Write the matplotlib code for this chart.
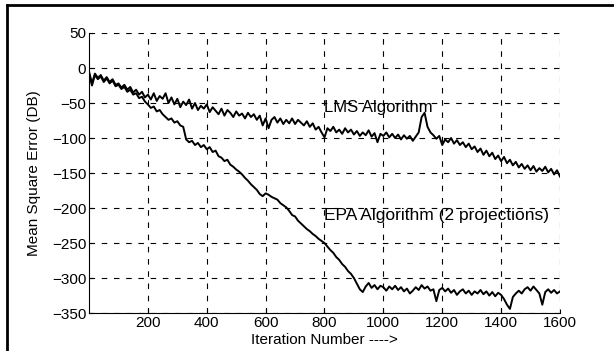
import numpy as np
import matplotlib
matplotlib.use("Agg")
import matplotlib.pyplot as plt
from matplotlib.lines import Line2D

iterations = np.arange(0, 1601, 10)

lms_db = [
    -5, -22, -8, -14, -10, -18, -13, -20, -16, -24,
    -22, -28, -24, -31, -27, -35, -31, -38, -34, -42,
    -38, -45, -36, -47, -40, -44, -36, -50, -42, -52,
    -44, -56, -48, -53, -45, -58, -50, -60, -54, -58,
    -52, -63, -56, -61, -66, -58, -68, -60, -64, -70,
    -62, -68, -65, -72, -64, -70, -66, -74, -68, -82,
    -72, -86, -74, -70, -78, -72, -80, -74, -79, -72,
    -80, -74, -78, -82, -76, -84, -79, -88, -84, -92,
    -99, -86, -90, -84, -92, -88, -94, -86, -92, -88,
    -95, -90, -97, -92, -96, -89, -98, -93, -106, -94,
    -97, -92, -99, -94, -100, -95, -102, -96, -101, -97,
    -104, -98, -92, -70, -64, -84, -92, -96, -101, -97,
    -110, -102, -106, -100, -108, -103, -110, -106, -113, -108,
    -116, -112, -120, -115, -124, -118, -126, -121, -130, -125,
    -133, -127, -136, -131, -139, -134, -142, -137, -144, -139,
    -146, -140, -148, -143, -147, -141, -149, -144, -152, -146,
    -155,
]

epa_db = [
    -8, -25, -10, -16, -12, -20, -15, -22, -18, -26,
    -24, -30, -27, -34, -31, -38, -36, -43, -41, -48,
    -52, -57, -55, -62, -60, -66, -70, -74, -72, -78,
    -76, -82, -84, -102, -106, -104, -110, -107, -113, -110,
    -116, -113, -120, -118, -126, -128, -133, -131, -138, -141,
    -145, -148, -152, -157, -161, -166, -170, -174, -180, -183,
    -179, -181, -184, -186, -188, -193, -196, -199, -204, -210,
    -212, -218, -222, -226, -230, -233, -237, -240, -244, -247,
    -250, -255, -260, -264, -270, -274, -280, -284, -290, -294,
    -300, -308, -316, -320, -312, -307, -314, -310, -316, -311,
    -313, -318, -312, -316, -311, -317, -313, -319, -315, -322,
    -318, -313, -317, -310, -315, -312, -318, -316, -333, -317,
    -314, -319, -315, -321, -317, -324, -319, -316, -322, -318,
    -324, -319, -322, -317, -323, -319, -325, -320, -326, -321,
    -324, -330, -338, -344, -327, -322, -318, -322, -316, -313,
    -318, -312, -317, -322, -338, -320, -316, -321, -317, -322,
    -319,
]

x_ticks = [200, 400, 600, 800, 1000, 1200, 1400, 1600]
y_ticks = [50, 0, -50, -100, -150, -200, -250, -300, -350]

plt.rcParams["font.family"] = ["Liberation Sans", "DejaVu Sans"]

fig = plt.figure(figsize=(6.14, 3.51), dpi=100)
ax = fig.add_axes([0.145, 0.108, 0.767, 0.798])

ax.plot(iterations, lms_db, color="black", lw=1.4)
ax.plot(iterations, epa_db, color="black", lw=1.4)

ax.set_xlim(0, 1600)
ax.set_ylim(-350, 50)
ax.set_xticks(x_ticks)
ax.set_yticks(y_ticks)
ax.tick_params(direction="in", length=3, labelsize=11, pad=2)

ax.grid(True, color="black", linestyle=(0, (5, 6)), linewidth=0.8)
ax.spines["top"].set_visible(False)
ax.spines["right"].set_visible(False)

ax.set_xlabel("Iteration Number ---->", fontsize=11, labelpad=2)
ax.set_ylabel("Mean Square Error (DB)", fontsize=11, labelpad=8)

ax.text(800, -57, "LMS Algorithm", fontsize=12, va="center", ha="left")
ax.text(800, -210, "EPA Algorithm (2 projections)", fontsize=12.5,
        va="center", ha="left")

# outer frame (top and left edges of the scanned page)
fig.add_artist(Line2D([0.011, 1.0], [0.986, 0.986], color="black", lw=2,
                      transform=fig.transFigure))
fig.add_artist(Line2D([0.011, 0.011], [0.0, 0.986], color="black", lw=2,
                      transform=fig.transFigure))

fig.savefig("out.png", dpi=100)
